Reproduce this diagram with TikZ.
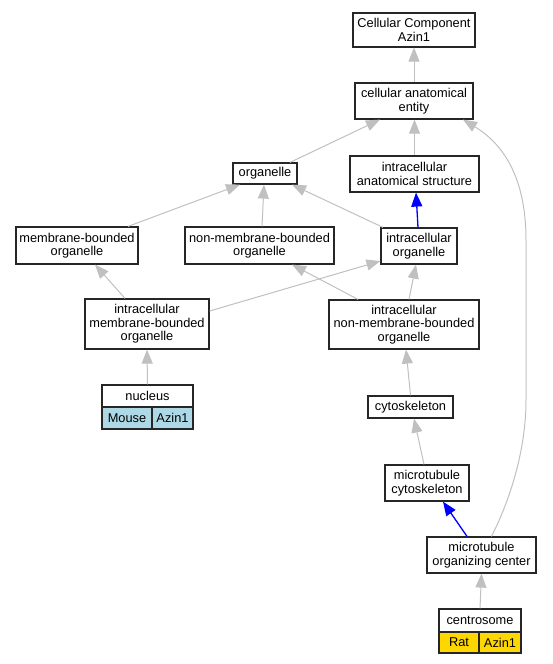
\documentclass[tikz,border=0pt]{standalone}
\usepackage{fontspec}
\setmainfont{Liberation Sans}
\usetikzlibrary{arrows.meta}
\definecolor{edgegray}{HTML}{C0C0C0}
\definecolor{lblue}{HTML}{ADD8E6}
\definecolor{gold}{HTML}{FFD700}
\tikzset{
  termbox/.style={draw=black!85, line width=1.2pt, fill=white, inner sep=0pt, align=center,
    font=\fontsize{12.8pt}{13.6pt}\selectfont},
  isa/.style={draw=edgegray, line width=1pt, -{Triangle[length=14pt,width=11pt,fill=edgegray]}},
  partof/.style={draw=blue, line width=1.3pt, -{Triangle[length=14pt,width=11pt,fill=blue]}},
}
\newcommand{\bx}[6]{\node[termbox, minimum width=#4pt, minimum height=#5pt] (#1) at (#2,#3) {#6};}
\begin{document}
\begin{tikzpicture}[x=1pt,y=-1pt]
\useasboundingbox (0,0) rectangle (552,664);
\bx{cc}{414}{30}{122}{34}{Cellular Component\\Azin1}
\bx{cae}{414}{101}{118}{36}{cellular anatomical\\entity}
\bx{org}{265}{173.5}{64}{21}{organelle}
\bx{ias}{414.5}{174}{129}{36}{intracellular\\anatomical structure}
\bx{mbo}{77}{245.5}{122}{37}{membrane-bounded\\organelle}
\bx{nmbo}{259.5}{245.5}{149}{37}{non-membrane-bounded\\organelle}
\bx{io}{419}{246}{76}{36}{intracellular\\organelle}
\bx{imbo}{147}{324}{124}{50}{intracellular\\membrane-bounded\\organelle}
\bx{inmbo}{404}{324.5}{150}{49}{intracellular\\non-membrane-bounded\\organelle}
\bx{cyto}{410.5}{407}{85}{22}{cytoskeleton}
\bx{mc}{427}{483}{84}{36}{microtubule\\cytoskeleton}
\bx{mco}{481.5}{555}{109}{36}{microtubule\\organizing center}
% nucleus table
\bx{nuc}{147.5}{396}{91}{22}{nucleus}
\node[termbox, fill=lblue, minimum width=50pt, minimum height=22pt] (nucm) at (127,418) {Mouse};
\node[termbox, fill=lblue, minimum width=41pt, minimum height=22pt] (nuca) at (172.5,418) {Azin1};
% centrosome table
\bx{cen}{480}{620.5}{82}{23}{centrosome}
\node[termbox, fill=gold, minimum width=40pt, minimum height=21pt] (cenr) at (459,642.5) {Rat};
\node[termbox, fill=gold, minimum width=42pt, minimum height=21pt] (cena) at (500,642.5) {Azin1};
% edges
\draw[isa] (cae.north) -- (cc.south);
\draw[isa] ([xshift=25pt]org.north) -- ([xshift=-34pt]cae.south);
\draw[isa] (ias.north) -- ([xshift=0.5pt]cae.south);
\draw[isa] ([xshift=10pt]mco.north) .. controls (510,500) and (526,450) .. (526,400) -- (526,240) .. controls (526,180) and (505,145) .. ([xshift=49pt]cae.south);
\draw[isa] ([xshift=51pt]mbo.north) -- ([xshift=-25pt]org.south);
\draw[isa] ([xshift=2.5pt]nmbo.north) -- ([xshift=-1pt]org.south);
\draw[isa] ([xshift=-36pt]io.north) -- ([xshift=27pt]org.south);
\draw[partof] ([xshift=-1pt]io.north) -- ([xshift=1.5pt]ias.south);
\draw[isa] ([xshift=-22pt]imbo.north) -- ([xshift=18pt]mbo.south);
\draw[isa] ([yshift=13pt]imbo.east) -- ([yshift=-15pt]io.west);
\draw[isa] ([xshift=-46pt]inmbo.north) -- ([xshift=32.5pt]nmbo.south);
\draw[isa] ([xshift=5pt]inmbo.north) -- ([xshift=-3pt]io.south);
\draw[isa] (nuc.north) -- (imbo.south);
\draw[isa] (cyto.north) -- ([xshift=2pt]inmbo.south);
\draw[isa] ([xshift=-3pt]mc.north) -- ([xshift=3.5pt]cyto.south);
\draw[partof] ([xshift=-14.5pt]mco.north) -- ([xshift=16pt]mc.south);
\draw[isa] (cen.north) -- (mco.south);
\end{tikzpicture}
\end{document}
